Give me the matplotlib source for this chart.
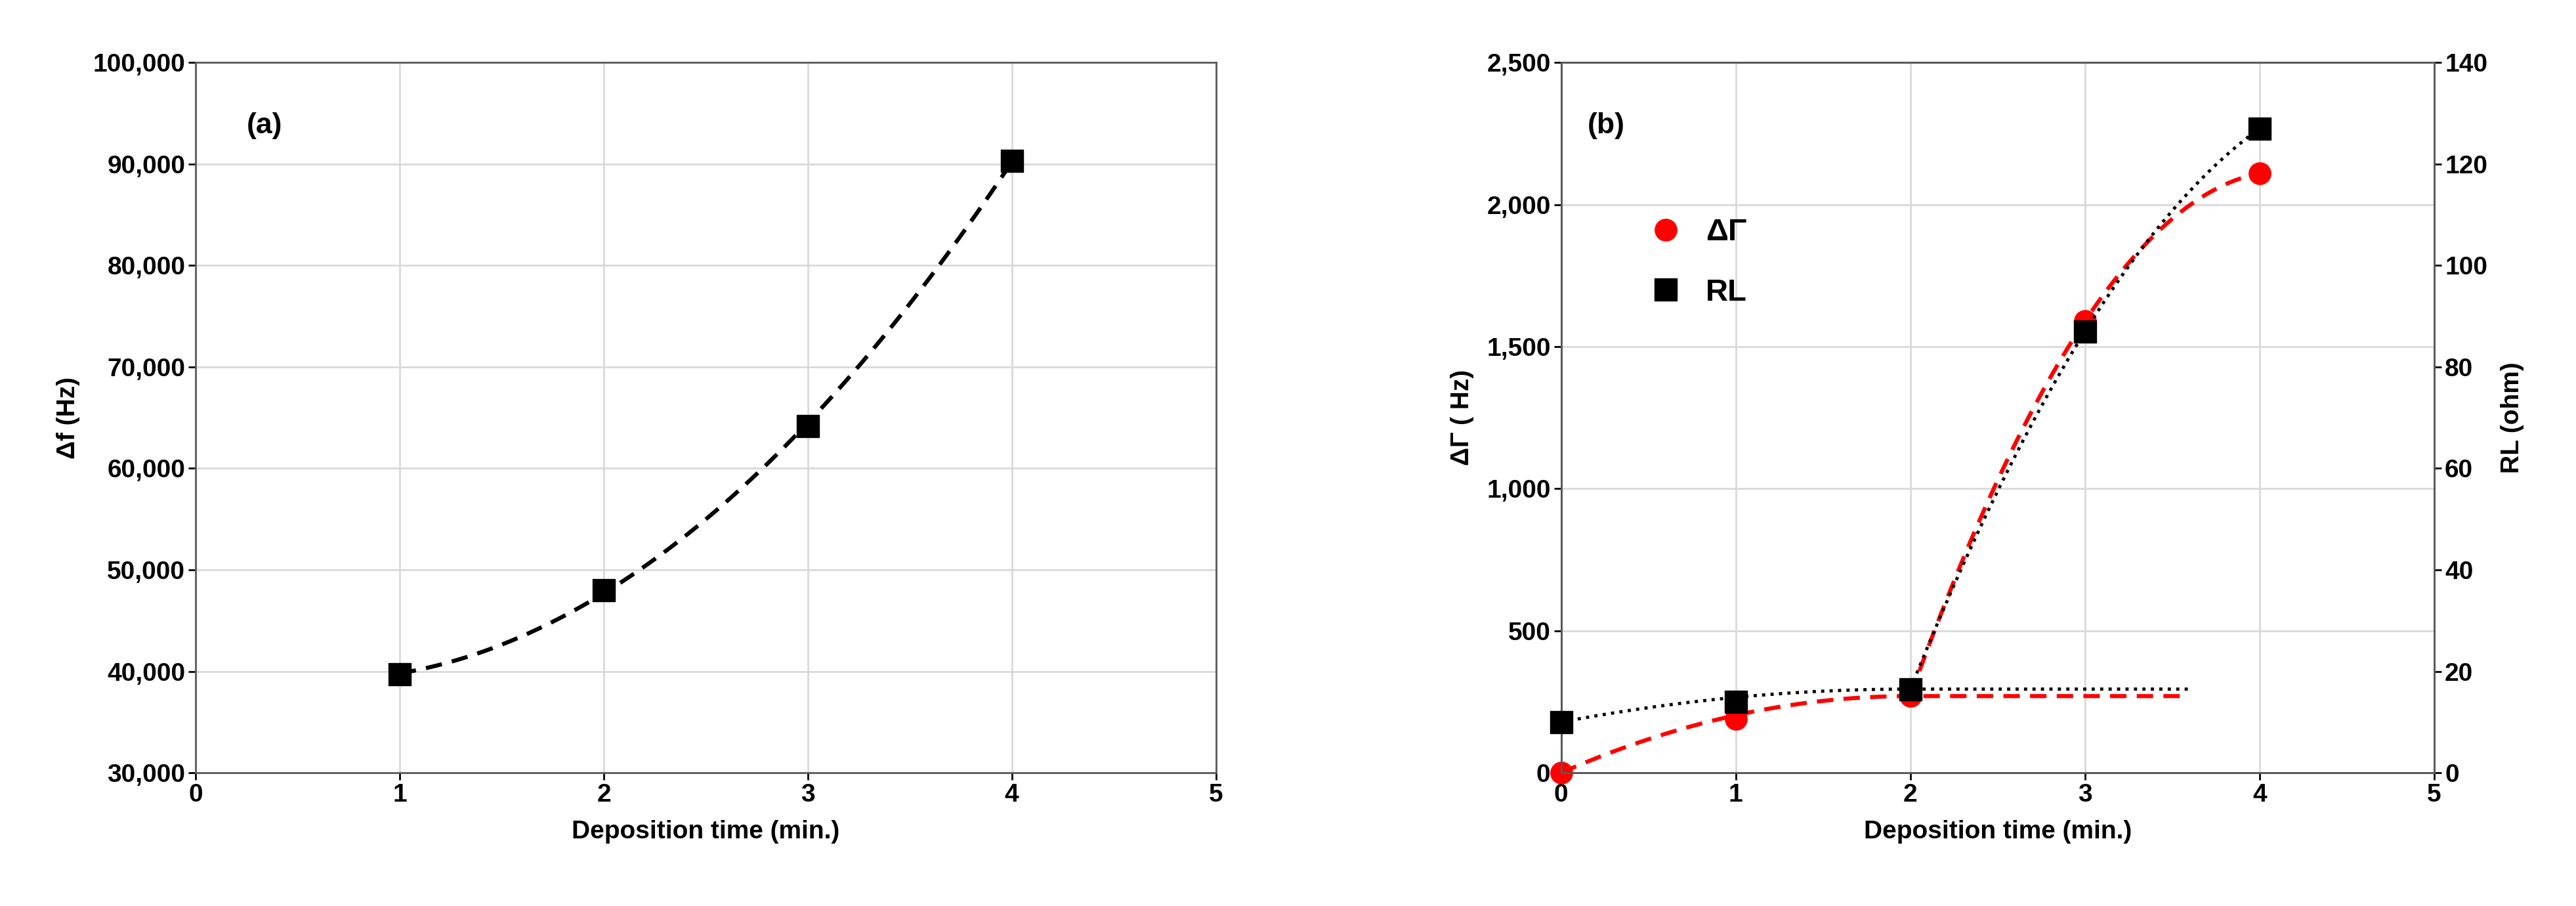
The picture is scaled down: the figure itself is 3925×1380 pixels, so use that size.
import matplotlib
matplotlib.use("Agg")
import matplotlib.pyplot as plt
import numpy as np

plt.rcParams['font.family'] = ['Liberation Sans', 'DejaVu Sans']

t_a = [1, 2, 3, 4]
df_a = [39700, 48000, 64200, 90300]

t_b = [0, 1, 2, 3, 4]
dG = [0, 190, 270, 1590, 2110]
RL = [10, 14, 16.5, 87, 127]

fig = plt.figure(figsize=(39.25, 13.8), dpi=100)
fs = 28
grid_c = '#d9d9d9'

def style(ax):
    ax.grid(True, color=grid_c, lw=2)
    ax.set_axisbelow(True)
    for s in ax.spines.values():
        s.set_color('#595959'); s.set_linewidth(2)
    ax.tick_params(labelsize=fs, width=2, length=8, colors='#000000')
    for l in ax.get_xticklabels() + ax.get_yticklabels():
        l.set_fontweight('bold')

# Panel a
ax = fig.add_axes([0.076, 0.147, 0.396, 0.784])
c = np.polyfit(t_a, df_a, 2)
xs = np.linspace(1, 4, 200)
ax.plot(xs, np.polyval(c, xs), '--', color='black', lw=4.5, dashes=(4, 2.5))
ax.plot(t_a, df_a, 's', color='black', ms=24)
ax.set_xlim(0, 5); ax.set_ylim(30000, 100000)
ax.set_yticks(range(30000, 100001, 10000))
ax.set_yticklabels([f"{v:,}" for v in range(30000, 100001, 10000)])
ax.set_xticks(range(6))
ax.set_xlabel('Deposition time (min.)', fontsize=fs, fontweight='bold', labelpad=14)
ax.set_ylabel('Δf (Hz)', fontsize=fs, fontweight='bold', labelpad=14)
ax.text(0.05, 0.93, '(a)', transform=ax.transAxes, fontsize=fs+4, fontweight='bold', va='top')
style(ax)

# Panel b
ax1 = fig.add_axes([0.606, 0.147, 0.339, 0.784])
ax2 = ax1.twinx()
x1 = np.linspace(0, 3.6, 200)
def sat(x, y0, y2):
    k = (y2 - y0) / 4.0
    return np.where(x < 2, y2 - k * (x - 2) ** 2, y2)
x2 = np.linspace(2, 4, 200)
cg = np.polyfit(t_b[2:], dG[2:], 2)
cr = np.polyfit(t_b[2:], RL[2:], 2)
ax1.plot(x1, sat(x1, dG[0], dG[2]), '--', color='red', lw=4.5, dashes=(4, 2.5))
ax1.plot(x2, np.polyval(cg, x2), '--', color='red', lw=4.5, dashes=(4, 2.5))
ax2.plot(x1, sat(x1, RL[0], RL[2]), ':', color='black', lw=3.5)
ax2.plot(x2, np.polyval(cr, x2), ':', color='black', lw=3.5)
ax1.plot(t_b, dG, 'o', color='red', ms=24, clip_on=False, zorder=5, label='ΔΓ')
ax2.plot(t_b, RL, 's', color='black', ms=24, clip_on=False, zorder=5, label='RL')
ax1.set_xlim(0, 5); ax1.set_ylim(0, 2500)
ax1.set_yticks(range(0, 2501, 500))
ax1.set_yticklabels([f"{v:,}" for v in range(0, 2501, 500)])
ax1.set_xticks(range(6))
ax2.set_ylim(0, 140); ax2.set_yticks(range(0, 141, 20))
ax1.set_xlabel('Deposition time (min.)', fontsize=fs, fontweight='bold', labelpad=14)
ax1.set_ylabel('ΔΓ ( Hz)', fontsize=fs, fontweight='bold', labelpad=14)
ax2.set_ylabel('RL (ohm)', fontsize=fs, fontweight='bold', labelpad=14)
ax1.text(0.03, 0.93, '(b)', transform=ax1.transAxes, fontsize=fs+4, fontweight='bold', va='top')
style(ax1); style(ax2)
ax2.grid(False)
h1, l1 = ax1.get_legend_handles_labels()
h2, l2 = ax2.get_legend_handles_labels()
leg = ax1.legend(h1 + h2, l1 + l2, loc='upper left', bbox_to_anchor=(0.07, 0.82), frameon=False,
                 prop={'size': fs + 6, 'weight': 'bold'}, labelspacing=1.0, handletextpad=0.8, handlelength=1)

fig.savefig('out.png', dpi=100)
